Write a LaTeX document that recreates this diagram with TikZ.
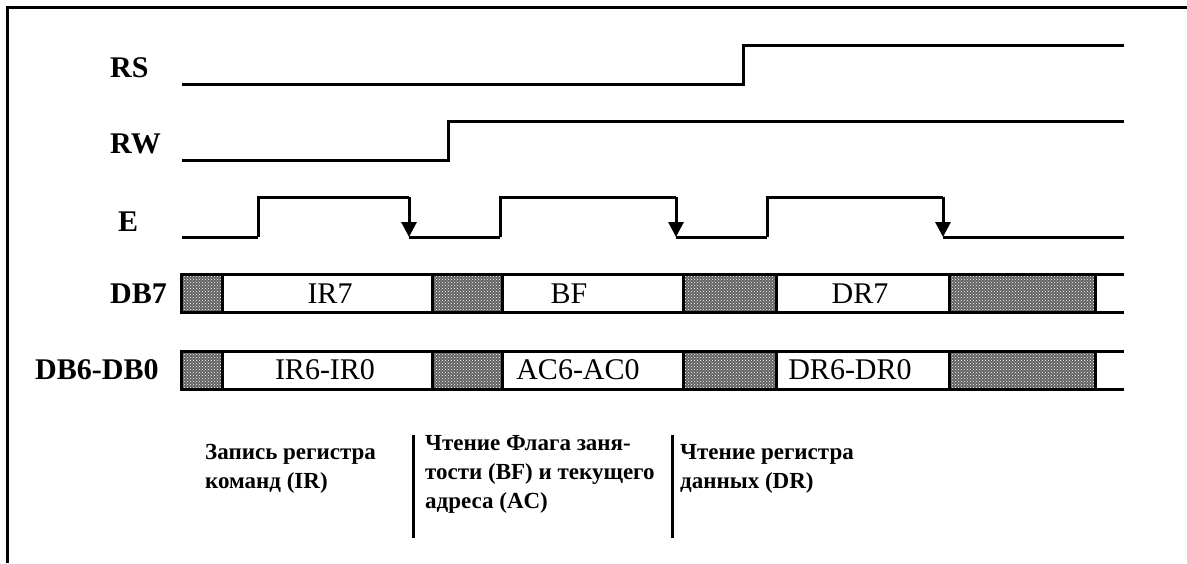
\documentclass[tikz,border=0pt]{standalone}
\usepackage{fontspec}
\setmainfont{Liberation Serif}
\usetikzlibrary{arrows.meta,patterns}

\begin{document}
\begin{tikzpicture}[x=1pt,y=-1pt,
    sig/.style={line width=3pt, line join=miter},
    edgearrow/.style={sig, -{Triangle[width=15pt,length=15pt]}},
    hatch/.style={line width=3pt, preaction={fill=black!62}, pattern=crosshatch dots, pattern color=white},
    siglabel/.style={anchor=base west, inner sep=0pt, font=\fontsize{30}{36}\selectfont\bfseries},
    buslabel/.style={anchor=base, inner sep=0pt, font=\fontsize{30}{36}\selectfont},
    phase/.style={anchor=base west, inner sep=0pt, align=left, font=\fontsize{23}{29}\selectfont\bfseries}]
    \useasboundingbox (0,0) rectangle (1187,563);
    % Frame (left and top only)
    \draw[line width=3pt] (7,563) -- (7,7) -- (1187,7);

    % Signal names
    \node[siglabel] (rs) at (110,77) {RS};
    \node[siglabel] (rw) at (110,153) {RW};
    \node[siglabel] (en) at (118,231) {E};
    \node[siglabel] (db7) at (110,303) {DB7};
    \node[siglabel] (db60) at (35,379) {DB6-DB0};

    % RS and RW
    \draw[sig] (182,84) -- (743,84) -- (743,45) -- (1124,45);
    \draw[sig] (182,160) -- (448,160) -- (448,121) -- (1124,121);

    % E strobes with falling edges
    \foreach \r/\f in {258/409, 500/676, 767/943} {
        \draw[sig] (\r,237) -- (\r,197) -- (\f,197);
        \draw[edgearrow] (\f,197) -- (\f,237);
    }
    \draw[sig] (182,237) -- (258,237) (409,237) -- (500,237)
        (676,237) -- (767,237) (943,237) -- (1124,237);

    % Data bus rows
    \foreach \y in {274,351} {
        \draw[sig] (181,\y) -- (1124,\y) (181,\y+38) -- (1124,\y+38);
        \foreach \a/\b in {181/222, 432/502, 683/776, 949/1095}
            \draw[hatch] (\a,\y) rectangle (\b,\y+38);
    }
    \node[buslabel] (ir7) at (330,303) {IR7};
    \node[buslabel] (bf) at (569,303) {BF};
    \node[buslabel] (dr7) at (860,303) {DR7};
    \node[buslabel] (ir60) at (325,379) {IR6-IR0};
    \node[buslabel] (ac60) at (578,379) {AC6-AC0};
    \node[buslabel] (dr60) at (850,379) {DR6-DR0};

    % Phases (base = last line)
    \node[phase] (wrir) at (205,488) {Запись регистра\\команд (IR)};
    \node[phase] (rdbf) at (425,508) {Чтение Флага заня-\\тости (BF) и текущего\\адреса (AC)};
    \node[phase] (rddr) at (680,488) {Чтение регистра\\данных (DR)};
    \draw[line width=3pt] (413,435) -- (413,538);
    \draw[line width=3pt] (672,435) -- (672,538);
\end{tikzpicture}
\end{document}
